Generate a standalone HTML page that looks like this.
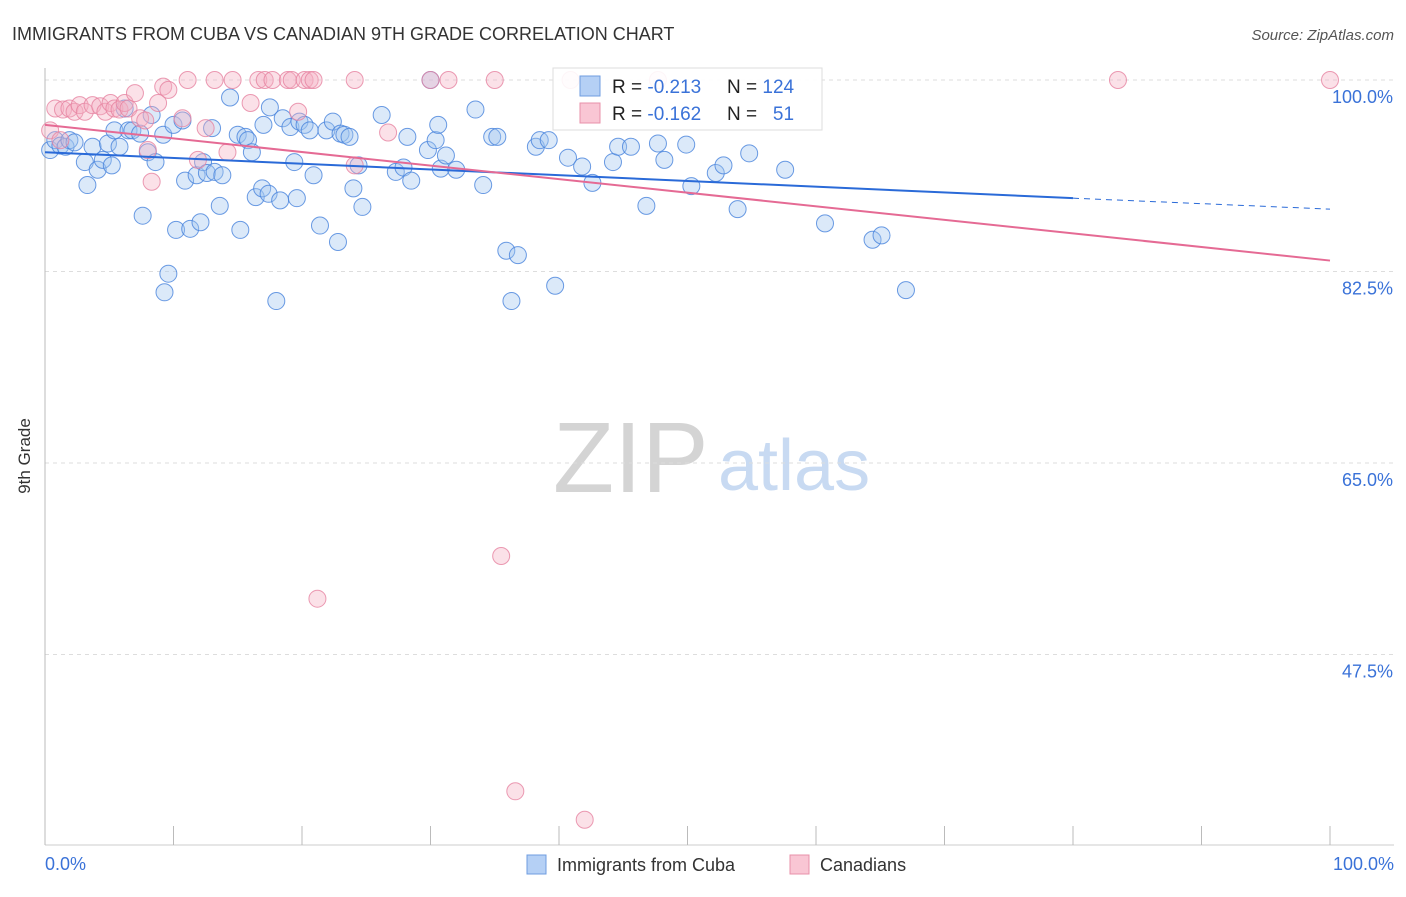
<!DOCTYPE html>
<html><head><meta charset="utf-8"><style>
body{margin:0;background:#fff;font-family:"Liberation Sans",sans-serif;}
svg text{font-family:"Liberation Sans",sans-serif;}
</style></head><body>
<svg width="1406" height="892">
<text x="12" y="40" font-size="18" fill="#333">IMMIGRANTS FROM CUBA VS CANADIAN 9TH GRADE CORRELATION CHART</text>
<text x="1394" y="40" font-size="15" fill="#555" font-style="italic" text-anchor="end">Source: ZipAtlas.com</text>
<g>
<text x="553" y="492" font-size="100" font-family="Liberation Serif" fill="#d4d4d4">ZIP</text>
<text x="718" y="490" font-size="72" fill="#c8daf2">atlas</text>
</g>
<g id="grid"></g>
<line x1="45" y1="68" x2="45" y2="845" stroke="#bbb"/>
<line x1="45" y1="845" x2="1394" y2="845" stroke="#ccc"/>
<g id="xticks"></g>
<text x="30" y="456" font-size="17" fill="#333" transform="rotate(-90 30 456)" text-anchor="middle">9th Grade</text>
<text x="45" y="870" font-size="18" fill="#3a72d8">0.0%</text>
<text x="1394" y="870" font-size="18" fill="#3a72d8" text-anchor="end">100.0%</text>
<g id="pts"></g>
<g id="trends"></g>
<g>
<rect x="553" y="68" width="269" height="62" fill="#fff" fill-opacity="0.9" stroke="#ddd"/>
<rect x="580" y="76" width="20" height="20" fill="#b5d0f5" stroke="#6f9de0"/>
<rect x="580" y="103" width="20" height="20" fill="#f9c6d4" stroke="#e890aa"/>
<text x="612" y="93" font-size="19" fill="#222">R = <tspan fill="#3a72d8">-0.213</tspan></text>
<text x="727" y="93" font-size="19" fill="#222">N = <tspan fill="#3a72d8">124</tspan></text>
<text x="612" y="120" font-size="19" fill="#222">R = <tspan fill="#3a72d8">-0.162</tspan></text>
<text x="727" y="120" font-size="19" fill="#222">N = <tspan fill="#3a72d8">&#160;&#160;51</tspan></text>
</g>
<g>
<rect x="527" y="855" width="19" height="19" fill="#b5d0f5" stroke="#6f9de0"/>
<text x="557" y="871" font-size="18" fill="#333">Immigrants from Cuba</text>
<rect x="790" y="855" width="19" height="19" fill="#f9c6d4" stroke="#e890aa"/>
<text x="820" y="871" font-size="18" fill="#333">Canadians</text>
</g>
</svg>
<script>
const yTicks=[100,82.5,65,47.5];
const yTickLabels=["100.0%","82.5%","65.0%","47.5%"];
const xTicks=[0,10,20,30,40,50,60,70,80,90,100];
const cubaX=[0.4,0.8,1.2,1.6,1.9,2.3,3.1,3.3,3.7,4.1,4.5,4.9,5.2,5.4,5.8,6.2,6.5,6.8,7.4,7.6,8.0,8.3,8.6,9.2,9.3,9.6,10.0,10.2,10.7,10.9,11.3,11.8,12.1,12.3,12.6,13.0,13.2,13.6,13.8,14.4,15.0,15.2,15.6,15.8,16.1,16.4,16.9,17.0,17.4,17.5,18.0,18.3,18.5,19.1,19.4,19.6,19.8,20.2,20.6,20.9,21.4,21.9,22.4,22.8,23.0,23.3,23.7,24.0,24.4,24.7,26.2,27.3,27.9,28.2,28.5,29.8,30.0,30.4,30.6,30.8,31.2,32.0,33.5,34.1,34.8,35.2,35.9,36.3,36.8,38.2,38.5,39.2,39.7,40.7,41.8,42.6,44.2,44.6,45.6,46.8,47.7,48.2,49.9,50.3,52.2,52.8,53.9,54.8,57.6,60.7,64.4,65.1,67.0];
const cubaY=[93.6,94.5,94.0,93.9,94.5,94.3,92.5,90.4,93.9,91.8,92.7,94.2,92.2,95.4,93.9,97.4,95.4,95.4,95.1,87.6,93.4,96.8,92.5,95.0,80.6,82.3,95.9,86.3,96.3,90.8,86.4,91.3,87.0,92.5,91.5,95.6,91.6,88.5,91.3,98.4,95.0,86.3,94.8,94.5,93.4,89.3,90.1,95.9,89.6,97.5,79.8,89.0,96.5,95.7,92.5,89.2,96.2,95.9,95.4,91.3,86.7,95.4,96.2,85.2,95.1,95.0,94.8,90.1,92.2,88.4,96.8,91.6,92.0,94.8,90.8,93.6,100,94.5,95.9,91.9,93.1,91.8,97.3,90.4,94.8,94.8,84.4,79.8,84.0,93.9,94.5,94.5,81.2,92.9,92.1,90.6,92.5,93.9,93.9,88.5,94.2,92.7,94.1,90.3,91.5,92.2,88.2,93.3,91.8,86.9,85.4,85.8,80.8];
const canX=[0.4,0.8,1.2,1.4,1.9,2.3,2.7,3.1,3.7,4.3,4.7,5.1,5.4,5.8,6.2,6.5,7.0,7.4,7.8,8.0,8.3,8.8,9.2,9.6,10.7,11.1,11.9,12.5,13.2,14.2,14.6,16.0,16.6,17.1,17.7,18.9,19.2,19.7,20.2,20.6,20.9,21.2,24.1,24.1,26.7,30.0,31.4,35.0,35.5,36.6,40.9,42.0,47.7,83.5,100];
const canY=[95.4,97.4,94.5,97.3,97.4,97.1,97.7,97.1,97.7,97.6,97.1,97.9,97.4,97.3,97.9,97.4,98.8,96.5,96.3,93.6,90.7,97.9,99.4,99.1,96.5,100,92.7,95.6,100,93.4,100,97.9,100,100,100,100,100,97.1,100,100,100,52.6,100,92.2,95.2,100,100,100,56.5,35.0,100,32.4,100,100,100];
const cubaTrend=[93.4,89.2,88.2]; // at x=0, 80, 100
const canTrend=[95.9,83.5]; // at x=0, 100
const X=v=>45+v/100*1285;
const Y=v=>80+(100-v)/17.5*191.5;
const NS="http://www.w3.org/2000/svg";
function mk(t,a,p){const e=document.createElementNS(NS,t);for(const k in a)e.setAttribute(k,a[k]);p.appendChild(e);return e;}
const grid=document.getElementById('grid');
yTicks.forEach((v,i)=>{
 const l=mk('line',{x1:45,x2:1394,y1:Y(v),y2:Y(v),stroke:'#ddd','stroke-dasharray':'4,4'},grid);
 
 
 const t=mk('text',{x:1393,y:Y(v)+23,'font-size':18,fill:'#3a72d8','text-anchor':'end'},grid);
 t.textContent=yTickLabels[i];
 
 
});
const xt=document.getElementById('xticks');
xTicks.forEach(v=>{
 const l=mk('line',{x1:X(v),x2:X(v),y1:826,y2:845,stroke:'#bbb'},xt);
 
 
});
const pts=document.getElementById('pts');
cubaX.forEach((v,i)=>{
 const c=mk('circle',{cx:X(v),cy:Y(cubaY[i]),r:8.5,fill:'rgba(160,196,240,0.38)',stroke:'rgba(70,130,220,0.8)','stroke-width':1},pts);
 
 
});
canX.forEach((v,i)=>{
 const c=mk('circle',{cx:X(v),cy:Y(canY[i]),r:8.5,fill:'rgba(245,175,195,0.38)',stroke:'rgba(230,130,160,0.8)','stroke-width':1},pts);
 
 
});
const tr=document.getElementById('trends');
let l=mk('line',{x1:X(0),y1:Y(cubaTrend[0]),x2:X(80),y2:Y(cubaTrend[1]),stroke:'#2a6ad8','stroke-width':2},tr);


l=mk('line',{x1:X(80),y1:Y(cubaTrend[1]),x2:X(100),y2:Y(cubaTrend[2]),stroke:'#2a6ad8','stroke-width':1,'stroke-dasharray':'6,5'},tr);


l=mk('line',{x1:X(0),y1:Y(canTrend[0]),x2:X(100),y2:Y(canTrend[1]),stroke:'#e56a94','stroke-width':2},tr);


</script>
</body></html>
